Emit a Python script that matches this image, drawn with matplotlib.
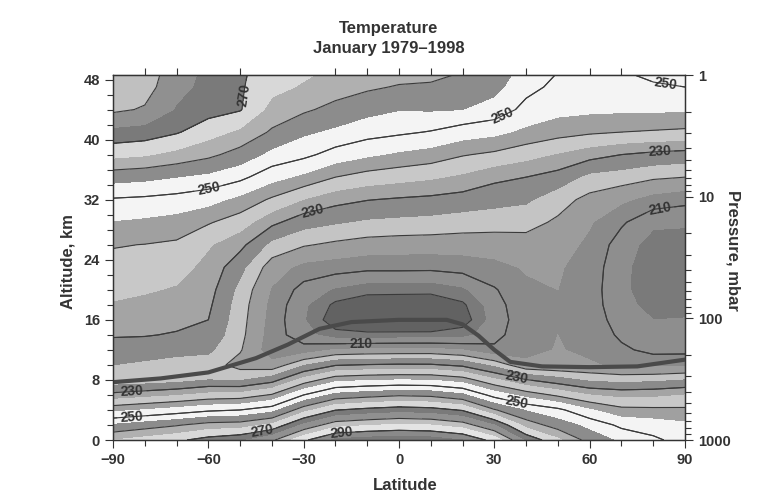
import numpy as np
import matplotlib
matplotlib.use('Agg')
import matplotlib.pyplot as plt
from matplotlib.ticker import FixedLocator, NullFormatter

plt.rcParams['font.family'] = ['Liberation Sans', 'DejaVu Sans']

# zonal-mean January temperature (K), one column per latitude
latitudes = [-90, -80, -70, -60, -50, -40, -30, -20, -10, 0, 10, 20, 30, 40, 50, 60, 70, 80, 90]
altitudes = [0, 2, 4, 6, 8, 10, 12, 14, 16, 18, 20, 23, 26, 29, 32, 35, 38, 41, 44, 47, 49]

t_s90 = [265, 255.5, 243.5, 231.5, 221.5, 225, 227.7, 230.5, 232.5, 234.5, 236.5, 238.5, 240.3, 244.7, 249.5, 257, 266.5, 273.5, 281, 284, 285]
t_s80 = [267, 257.5, 245.2, 233, 222, 224, 227.5, 230.3, 232.2, 233.8, 235.5, 237.8, 239.9, 244, 249, 256.3, 265.5, 272.8, 279.5, 282, 283]
t_s70 = [269, 259.5, 247, 234.5, 223, 223, 226.6, 229.6, 231.3, 232.7, 234.5, 236.8, 239.2, 243, 248.2, 255, 263.5, 270.5, 274.5, 276.5, 277]
t_s60 = [272, 262, 249, 236.5, 225, 222.5, 226, 228.5, 230, 231, 232, 233.5, 235.5, 240.5, 246.8, 253.7, 261.2, 267, 272, 273.5, 274]
t_s50 = [274, 262.5, 250, 237, 224.5, 218, 220.5, 221.5, 222, 222.5, 223.5, 226.5, 231.5, 237.5, 243.5, 251.3, 258, 264, 270.4, 270.6, 270.8]
t_s40 = [279, 266, 253, 240.5, 228, 216.5, 212, 212.5, 213, 213.5, 214.5, 217.5, 223.5, 231.3, 239.2, 246.8, 253.5, 259.3, 263.2, 266.5, 267.5]
t_s30 = [289, 276, 263, 250, 237, 224.5, 212, 207, 205.5, 206, 208, 213.5, 220.5, 227, 234.8, 243.8, 251.3, 255.8, 260.8, 264.4, 266]
t_s20 = [296, 283, 269.8, 256.5, 243.3, 229.5, 215.5, 202, 196.5, 198.8, 204.3, 212.5, 219, 225.5, 231.7, 240, 248, 254, 258.5, 262.3, 264]
t_s10 = [297.5, 284.5, 271.5, 258, 244.5, 230.3, 216.2, 201.8, 192.5, 196, 202, 211.5, 217.9, 224.2, 230.2, 237.9, 245.8, 252, 256.5, 260.8, 263]
t_eq = [298, 285.6, 272.7, 259.3, 245, 230.7, 216.4, 202, 192, 195.5, 202, 211.5, 217.5, 223.7, 229.4, 236.8, 244.1, 250.9, 255.2, 259.6, 262]
t_n10 = [297.5, 285, 272, 258.7, 244.8, 230.6, 216.5, 202, 192.3, 195.8, 201.7, 211.4, 217.4, 223.3, 228.8, 235.7, 242.8, 249.7, 255.4, 259.3, 261.5]
t_n20 = [295, 282.5, 269.5, 256, 242.5, 228.8, 215, 203, 197, 199, 204, 212.2, 217.3, 222.5, 227.9, 234, 240.4, 247.5, 255, 258.4, 260]
t_n30 = [288, 275, 260.5, 248, 236, 223.5, 211, 208.5, 207.5, 208, 209.5, 213.5, 217.5, 222, 226.8, 231.2, 239, 246.3, 253, 256.5, 258]
t_n40 = [274, 263, 254.5, 243, 230.3, 216, 213.5, 213, 213, 213.5, 214, 215.5, 218, 221.7, 225.8, 230, 236.8, 243.8, 248.5, 251.5, 253]
t_n50 = [266, 257.5, 251.3, 239, 227, 215.5, 215.3, 215, 215, 215, 215, 215.5, 217, 219.2, 222, 228, 234.5, 242, 246.5, 248.8, 250]
t_n60 = [258, 253.5, 245.5, 235, 224, 215.5, 214, 213.5, 213, 212.5, 212.5, 213, 214, 215.5, 218.5, 223.5, 232, 240.8, 246, 247.8, 248.5]
t_n70 = [254, 248.8, 241.5, 233.5, 223.2, 214, 211, 209, 207.5, 206.5, 206, 206.2, 207.5, 210.8, 216, 222.5, 230, 240, 245.8, 248.8, 249.8]
t_n80 = [251, 247.5, 241.2, 233.8, 223.8, 213.6, 208.5, 206.3, 205, 203.5, 202.5, 202.3, 203, 206, 213, 220.8, 228.7, 239.5, 245.8, 249.5, 251]
t_n90 = [248, 246, 241, 235, 225, 214, 208.5, 206.5, 205.3, 203, 201.5, 201, 202.5, 205.8, 211.5, 220, 228, 239, 245.5, 250, 252]

# thermal tropopause height (km)
trop_lat = [-90, -75, -60, -45, -35, -25, -15, 0, 15, 20, 25, 30, 35, 45, 60, 75, 90]
trop_alt = [7.7, 8.2, 9.0, 10.9, 12.7, 14.8, 15.7, 16.0, 16.0, 15.4, 13.9, 12.0, 10.4, 9.8, 9.7, 9.8, 10.7]

# grey shade for each 5 K band, keyed by its lower bound
band_lows = [185, 190, 195, 200, 205, 210, 215, 220, 225, 230, 235, 240, 245,
             250, 255, 260, 265, 270, 275, 280, 285, 290, 295]
band_greys = ['#626262', '#626262', '#626262', '#7a7a7a', '#8e8e8e', '#8a8a8a',
              '#9c9c9c', '#c4c4c4', '#8a8a8a', '#a4a4a4', '#c8c8c8', '#a0a0a0',
              '#f4f4f4', '#f4f4f4', '#8c8c8c', '#b0b0b0', '#d8d8d8', '#7a7a7a',
              '#909090', '#c0c0c0', '#e4e4e4', '#8a8a8a', '#7a7a7a']

line_levels = [200, 210, 220, 230, 240, 250, 260, 270, 280, 290]
label_levels = [210, 230, 250, 270, 290]
label_spots = [(-49, 46), (-60, 33.6), (-27, 30.4), (31, 44.5), (84, 47.6),
               (82, 38.7), (82, 31), (-12, 13), (-84, 6.3), (-84, 2.8),
               (-43, 0.8), (-18, 1.0), (37, 8.0), (37, 4.8)]

temps = np.column_stack([t_s90, t_s80, t_s70, t_s60, t_s50, t_s40, t_s30, t_s20,
                         t_s10, t_eq, t_n10, t_n20, t_n30, t_n40, t_n50, t_n60,
                         t_n70, t_n80, t_n90])
lat = np.array(latitudes)
alt = np.array(altitudes)

ink = '#333333'
fig = plt.figure(figsize=(7.65, 5.01), dpi=100)
ax = fig.add_axes([113 / 765, 1 - 440 / 501, 572 / 765, 365 / 501])

ax.contourf(lat, alt, temps, levels=band_lows + [300], colors=band_greys)
ax.contour(lat, alt, temps, levels=line_levels, colors='#3a3a3a', linewidths=0.8)
lab = ax.contour(lat, alt, temps, levels=label_levels, colors='#3a3a3a', linewidths=0.8)
ax.clabel(lab, fmt='%d', fontsize=10, manual=label_spots, inline=True, inline_spacing=3,
          colors=ink)
for t in lab.labelTexts:
    t.set_fontweight('bold')

ax.plot(trop_lat, trop_alt, color='#4a4a4a', lw=3, solid_capstyle='round', zorder=5)

ax.set_xlim(-90, 90)
ax.set_ylim(0, 48.6)
ax.set_xticks(np.arange(-90, 91, 30))
ax.set_xticks(np.arange(-90, 91, 10), minor=True)
ax.set_yticks(np.arange(0, 49, 8))
ax.set_yticks(np.arange(0, 49, 2), minor=True)
ax.tick_params(which='both', direction='out', colors=ink, width=0.8, labelsize=10.5)
ax.tick_params(which='major', length=6)
ax.tick_params(which='minor', length=4)
for t in ax.get_xticklabels() + ax.get_yticklabels():
    t.set_fontweight('bold')
for s in ax.spines.values():
    s.set_color(ink)
    s.set_linewidth(0.9)

# short ticks along the top edge
top = ax.secondary_xaxis('top')
top.set_xticks([-80, -70, -50, -20, -10, 0, 10, 20, 40, 60, 70])
top.xaxis.set_major_formatter(NullFormatter())
top.tick_params(direction='out', length=5, width=0.8, colors=ink)

# pressure axis: z = 16.2 km * log10(1000 / p)
ax2 = ax.twinx()
ax2.set_yscale('log')
ax2.set_ylim(1000, 1000 * 10 ** (-48.6 / 16.2))
ax2.yaxis.set_major_locator(FixedLocator([1, 10, 100, 1000]))
ax2.set_yticklabels(['1', '10', '100', '1000'])
minors = [m * d for d in (1, 10, 100) for m in range(2, 10)]
ax2.yaxis.set_minor_locator(FixedLocator(minors))
ax2.yaxis.set_minor_formatter(NullFormatter())
ax2.tick_params(which='both', direction='out', colors=ink, width=0.8, labelsize=10.5)
ax2.tick_params(which='major', length=6)
ax2.tick_params(which='minor', length=4)
for t in ax2.get_yticklabels():
    t.set_fontweight('bold')
for s in ax2.spines.values():
    s.set_color(ink)
    s.set_linewidth(0.9)

fig.text(389 / 765, 1 - 28 / 501, 'Temperature', ha='center', va='center',
         fontsize=12, fontweight='bold', color=ink)
fig.text(389 / 765, 1 - 49 / 501, 'January 1979–1998', ha='center', va='center',
         fontsize=12, fontweight='bold', color=ink)
fig.text(68 / 765, 1 - 262 / 501, 'Altitude, km', ha='center', va='center',
         rotation=90, fontsize=12, fontweight='bold', color=ink)
fig.text(733 / 765, 1 - 250 / 501, 'Pressure, mbar', ha='center', va='center',
         rotation=-90, fontsize=12, fontweight='bold', color=ink)
fig.text(405 / 765, 1 - 485 / 501, 'Latitude', ha='center', va='center',
         fontsize=12, fontweight='bold', color=ink)

fig.savefig('out.png', dpi=100, facecolor='white')
